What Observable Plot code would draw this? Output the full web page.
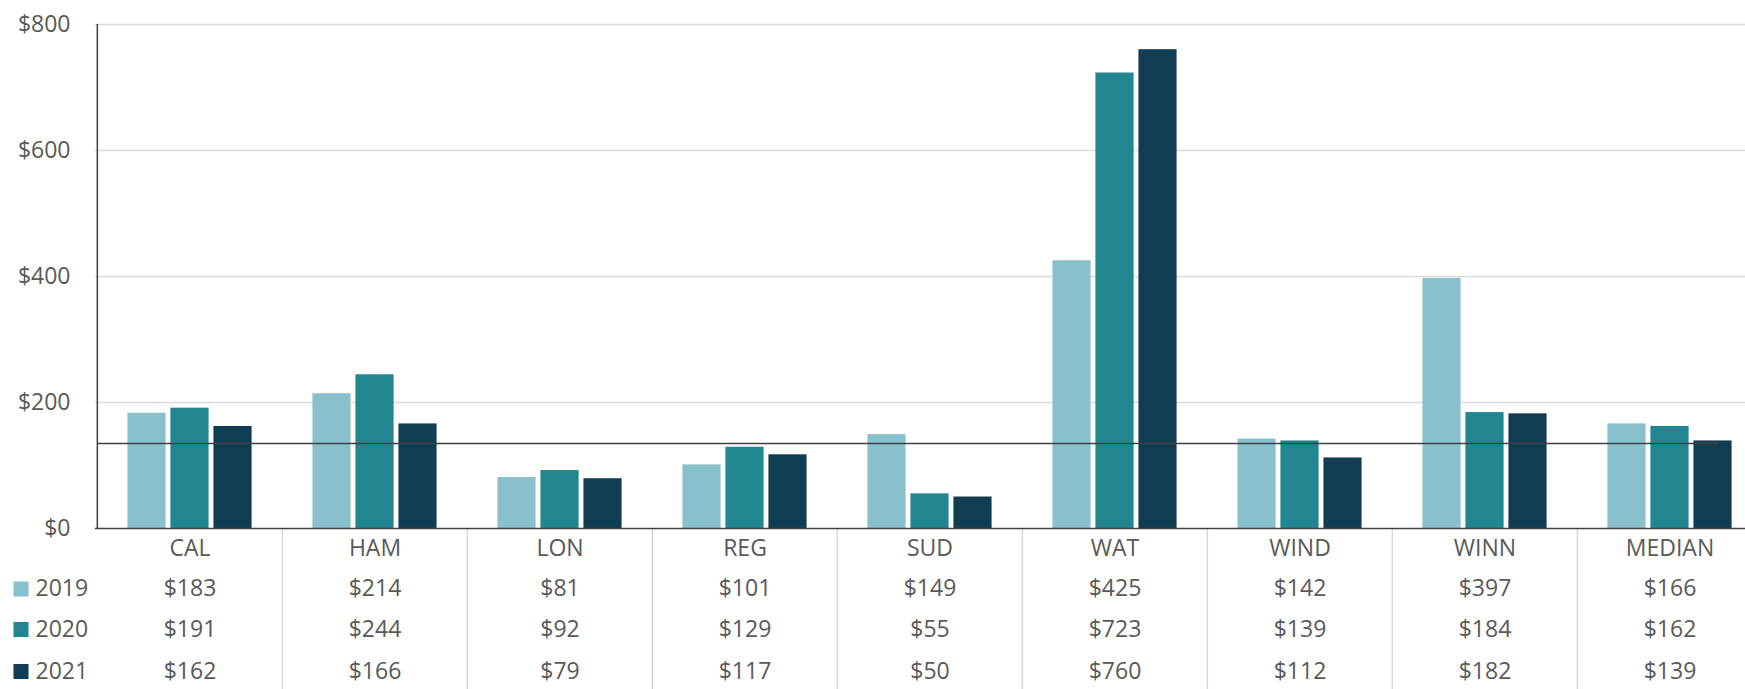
<!DOCTYPE html>
<html>
<head>
<meta charset="utf-8">
<script src="https://cdn.jsdelivr.net/npm/d3@7"></script>
<script src="https://cdn.jsdelivr.net/npm/@observablehq/plot@0.6"></script>
<style>
  html, body { margin: 0; padding: 0; background: #fff; }
</style>
</head>
<body>
<div id="chart"></div>
<script>
const categories = ["CAL", "HAM", "LON", "REG", "SUD", "WAT", "WIND", "WINN", "MEDIAN"];
const years = ["2019", "2020", "2021"];
const values2019 = [183, 214, 81, 101, 149, 425, 142, 397, 166];
const values2020 = [191, 244, 92, 129, 55, 723, 139, 184, 162];
const values2021 = [162, 166, 79, 117, 50, 760, 112, 182, 139];
const yTicks = [0, 200, 400, 600, 800];
const referenceValue = 135;
const colors = ["#88C1CC", "#218690", "#103D51"];

const seriesValues = [values2019, values2020, values2021];
const rows = years.map((year, j) => categories.map((c, i) => ({category: c, year, value: seriesValues[j][i]})));

const font = "'Open Sans', sans-serif";
const textColor = "#595959";
const fontSize = 23;
const barOffsets = [-43, 0, 43];
const rowOffsets = [60.5, 101, 143];
const bandW = (1763 - 95) / categories.length;
const barW = 38.5;
const inset = (bandW - barW) / 2;

const marks = [
  // gridlines
  Plot.ruleY(yTicks.filter(d => d > 0), {stroke: "#d9d9d9", strokeWidth: 1.5}),
  // y tick labels
  Plot.text(yTicks, {y: d => d, text: d => "$" + d, frameAnchor: "left", textAnchor: "end", dx: -25, fill: textColor, fontSize}),
  // table separators
  Plot.ruleX(categories.slice(1), {x: d => d, dx: -bandW / 2, y1: 0, y2: -270, stroke: "#d9d9d9", strokeWidth: 1.5}),
];

// bars
rows.forEach((data, j) => {
  marks.push(Plot.barY(data, {x: "category", y: "value", fill: colors[j], insetLeft: inset, insetRight: inset, dx: barOffsets[j]}));
});

marks.push(
  // reference line
  Plot.ruleY([referenceValue], {stroke: "#404040", strokeWidth: 1.5, insetLeft: 3, insetRight: 27}),
  // axes lines
  Plot.ruleY([0], {stroke: "#404040", strokeWidth: 1.5}),
  Plot.ruleX([0], {x: () => categories[0], dx: -bandW / 2, y1: 0, y2: 800, stroke: "#404040", strokeWidth: 1.5}),
  // category labels
  Plot.text(categories, {x: d => d, y: () => 0, dy: 20, text: d => d, fill: textColor, fontSize})
);

// table rows + legend
rows.forEach((data, j) => {
  marks.push(
    Plot.text(data, {x: "category", y: () => 0, dy: rowOffsets[j], text: d => "$" + d.value, fill: textColor, fontSize}),
    Plot.dot([years[j]], {y: () => 0, frameAnchor: "left", dx: -74.5, dy: rowOffsets[j], symbol: "square", r: 8.5, fill: colors[j], stroke: "none"}),
    Plot.text([years[j]], {y: () => 0, frameAnchor: "left", dx: -60, dy: rowOffsets[j], text: d => d, textAnchor: "start", fill: textColor, fontSize})
  );
});

const chart = Plot.plot({
  width: 1745,
  height: 689,
  marginLeft: 95,
  marginTop: 24,
  marginBottom: 161,
  marginRight: 0,
  style: {fontFamily: font, background: "#fff", overflow: "hidden"},
  x: {type: "band", domain: categories, range: [95, 1763], padding: 0, axis: null},
  y: {domain: [0, 800], axis: null},
  marks
});
document.getElementById("chart").append(chart);
</script>
</body>
</html>
